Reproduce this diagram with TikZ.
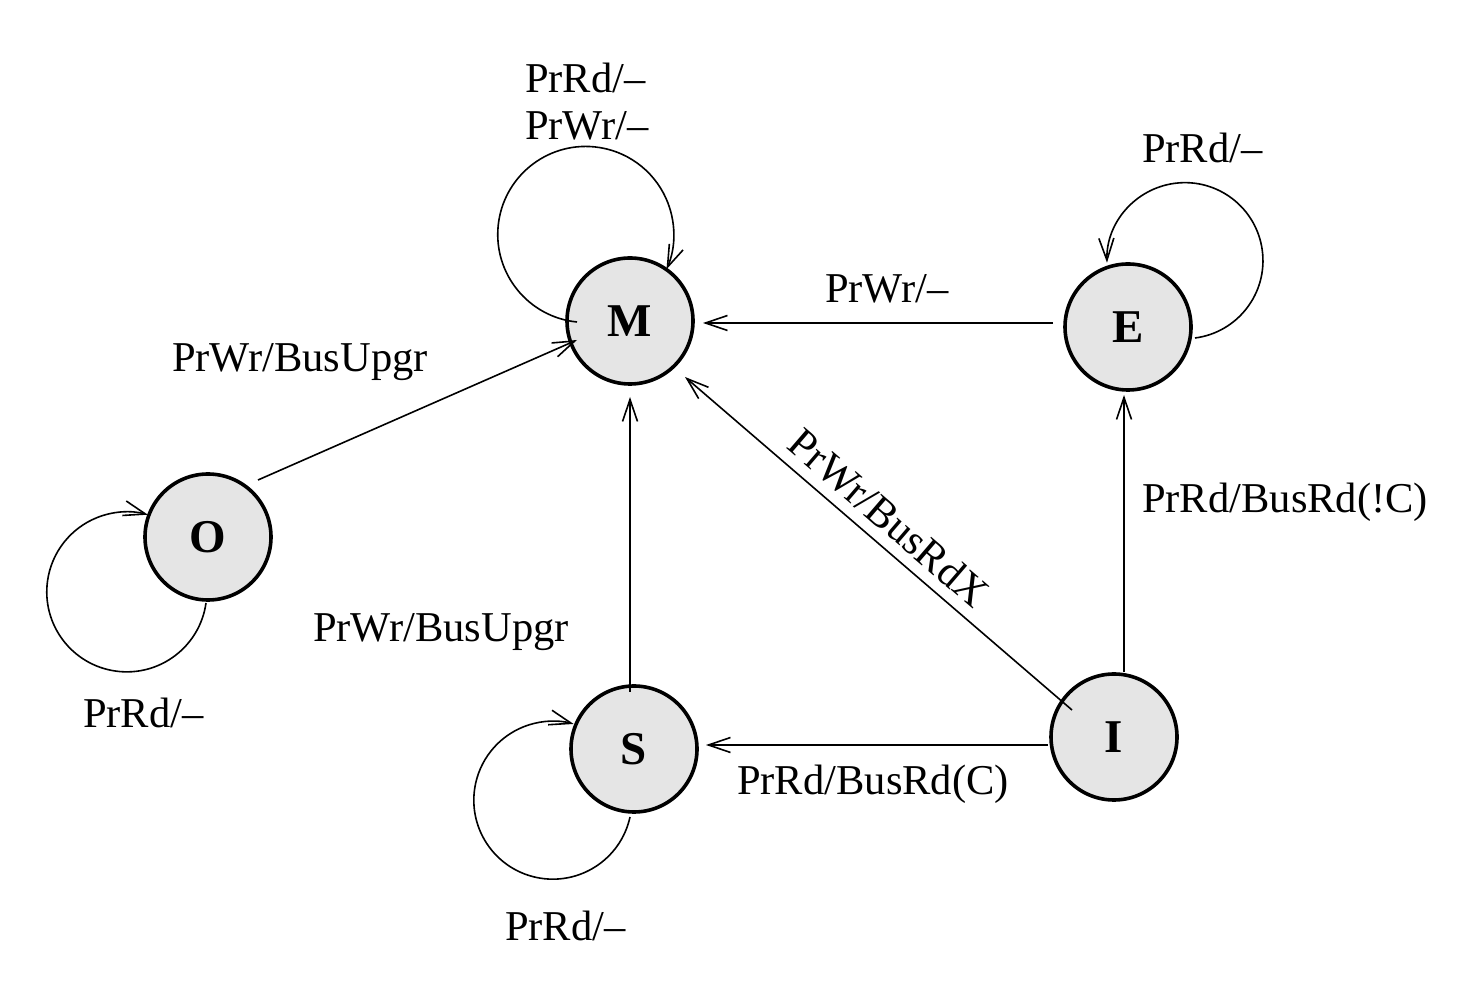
\documentclass[tikz,border=0pt]{standalone}
\usepackage{fontspec}
\setmainfont{Liberation Serif}
\usetikzlibrary{arrows.meta,calc}
\begin{document}
\begin{tikzpicture}[x=1pt,y=1pt,
  state/.style={circle,draw=black,line width=3.6pt,fill=black!10,minimum size=126pt,inner sep=0pt,
    font=\fontsize{47}{50}\selectfont\bfseries},
  edge/.style={line width=1.6pt,-{Straight Barb[length=22pt,width=15pt,line width=1.6pt]}},
  lbl/.style={inner sep=0pt,anchor=base west,font=\fontsize{42.5}{50}\selectfont}]
\useasboundingbox (0,0) rectangle (1475,991);
\node[state] (M) at (630,670) {\raisebox{-2pt}{M}};
\node[state] (E) at (1128,664) {\raisebox{-2pt}{E}};
\node[state] (O) at (208,454) {\raisebox{-2pt}{O}};
\node[state] (S) at (634,242) {\raisebox{-2pt}{S}};
\node[state] (I) at (1114,254) {\raisebox{-2pt}{I}};
% transitions
\draw[edge] ($(O)+(50,57)$) -- ($(M)+(-53,-19)$);
\draw[edge] ($(E)+(-75,4)$) -- ($(M)+(73,-2)$);
\draw[edge] ($(I)+(-42,27)$) -- ($(M)+(55,-56)$);
\draw[edge] ($(S)+(-4,57)$) -- ($(M)+(0,-76)$);
\draw[edge] ($(I)+(-66,-8)$) -- ($(S)+(72,4)$);
\draw[edge] ($(I)+(10,65)$) -- ($(E)+(-4,-68)$);
% self loops
\draw[edge] ($(M)+(-53,-1)$) arc[start angle=264.3,end angle=-23.4,radius=88];
\draw[edge] ($(E)+(67,-11)$) arc[start angle=-82.6,end angle=181.5,radius=78];
\draw[edge] ($(O)+(-2,-66)$) arc[start angle=-8,end angle=-285.3,radius=80];
\draw[edge] ($(S)+(-4,-68)$) arc[start angle=-12.3,end angle=-285.3,radius=79];
% labels
\node[lbl] (lM1) at (525,898) {PrRd/–};
\node[lbl] (lM2) at (525,851) {PrWr/–};
\node[lbl] (lE) at (1142,828) {PrRd/–};
\node[lbl] (lOM) at (172,619) {PrWr/BusUpgr};
\node[lbl] (lEM) at (825,688) {PrWr/–};
\node[lbl] (lSM) at (313,349) {PrWr/BusUpgr};
\node[lbl] (lO) at (83,263) {PrRd/–};
\node[lbl] (lIS) at (737,196) {PrRd/BusRd(C)};
\node[lbl] (lIE) at (1142,478) {PrRd/BusRd(!C)};
\node[lbl] (lS) at (505,51) {PrRd/–};
\node[inner sep=0pt,font=\fontsize{42.5}{50}\selectfont,rotate=-40.7] (lIM) at (889,473) {PrWr/BusRdX};
\end{tikzpicture}
\end{document}
